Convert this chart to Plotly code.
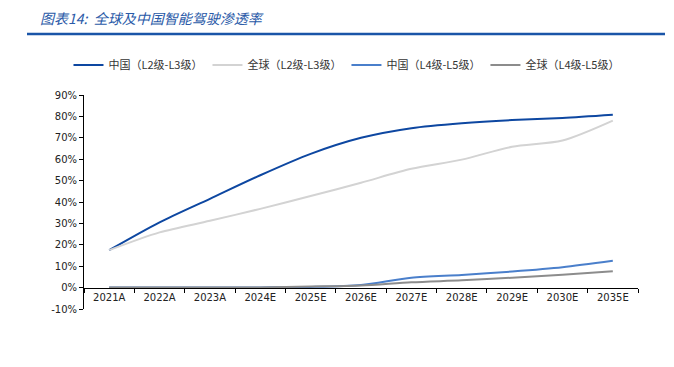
import plotly.graph_objects as go

categories = ["2021A", "2022A", "2023A", "2024E", "2025E", "2026E",
              "2027E", "2028E", "2029E", "2030E", "2035E"]
china_l2l3 = [17.5, 30.5, 41.5, 52.5, 62.5, 70.0, 74.5, 76.8, 78.3, 79.3, 80.8]
global_l2l3 = [17.5, 25.8, 31.2, 36.8, 42.8, 49.0, 55.5, 59.8, 65.8, 68.7, 78.0]
china_l4l5 = [0.0, 0.0, 0.0, 0.1, 0.3, 1.2, 4.6, 5.9, 7.5, 9.5, 12.5]
global_l4l5 = [0.0, 0.0, 0.0, 0.1, 0.5, 1.0, 2.5, 3.4, 4.6, 6.0, 7.6]
names = ["中国（L2级-L3级）", "全球（L2级-L3级）", "中国（L4级-L5级）", "全球（L4级-L5级）"]
colors = ["#0d47a1", "#d3d3d3", "#4a7fcb", "#8c8c8c"]
y_ticks = [-10, 0, 10, 20, 30, 40, 50, 60, 70, 80, 90]

fig = go.Figure()
for name, vals, col in zip(names, [china_l2l3, global_l2l3, china_l4l5, global_l4l5], colors):
    fig.add_trace(go.Scatter(
        x=categories, y=vals, name=name, mode="lines",
        line=dict(color=col, width=2, shape="spline", smoothing=0.8),
    ))

tick_font = dict(family="DejaVu Sans", size=10, color="#222222")

# page has an 8px body margin, so the figure is 8px smaller than the window
fig.update_layout(
    width=666, height=359,
    margin=dict(l=76, r=36, t=87, b=58),
    plot_bgcolor="white", paper_bgcolor="white",
    showlegend=True,
    legend=dict(
        orientation="h", x=-0.028, xanchor="left", y=1.14, yanchor="middle",
        font=dict(family="Noto Sans CJK SC", size=11, color="#333333"),
        bgcolor="rgba(0,0,0,0)", traceorder="normal",
    ),
    xaxis=dict(
        type="category", range=[-0.5, 10.5],
        anchor="free", position=0.1,
        showline=True, linecolor="#000000", linewidth=1,
        ticks="outside", tickson="boundaries", ticklen=4, tickcolor="#000000",
        showgrid=False, tickfont=tick_font, zeroline=False,
    ),
    yaxis=dict(
        range=[-10, 90], tickvals=y_ticks,
        ticktext=[f"{v}%" for v in y_ticks],
        showline=True, linecolor="#000000", linewidth=1,
        ticks="outside", ticklen=4, tickcolor="#000000",
        showgrid=False, zeroline=False, tickfont=tick_font,
    ),
    annotations=[dict(
        text="<i>图表14:  全球及中国智能驾驶渗透率</i>",
        xref="paper", yref="paper", x=(38 - 84) / 554, y=1 + (95 - 18) / 214,
        xanchor="left", yanchor="middle", showarrow=False,
        font=dict(family="Noto Sans CJK SC", size=14, color="#2a5aa8"),
    )],
    shapes=[dict(
        type="line", xref="paper", yref="paper",
        x0=(27 - 84) / 554, x1=(665 - 84) / 554,
        y0=1 + (95 - 34) / 214, y1=1 + (95 - 34) / 214,
        line=dict(color="#1a55a8", width=2.5),
    )],
)

fig.write_html("out.html")
